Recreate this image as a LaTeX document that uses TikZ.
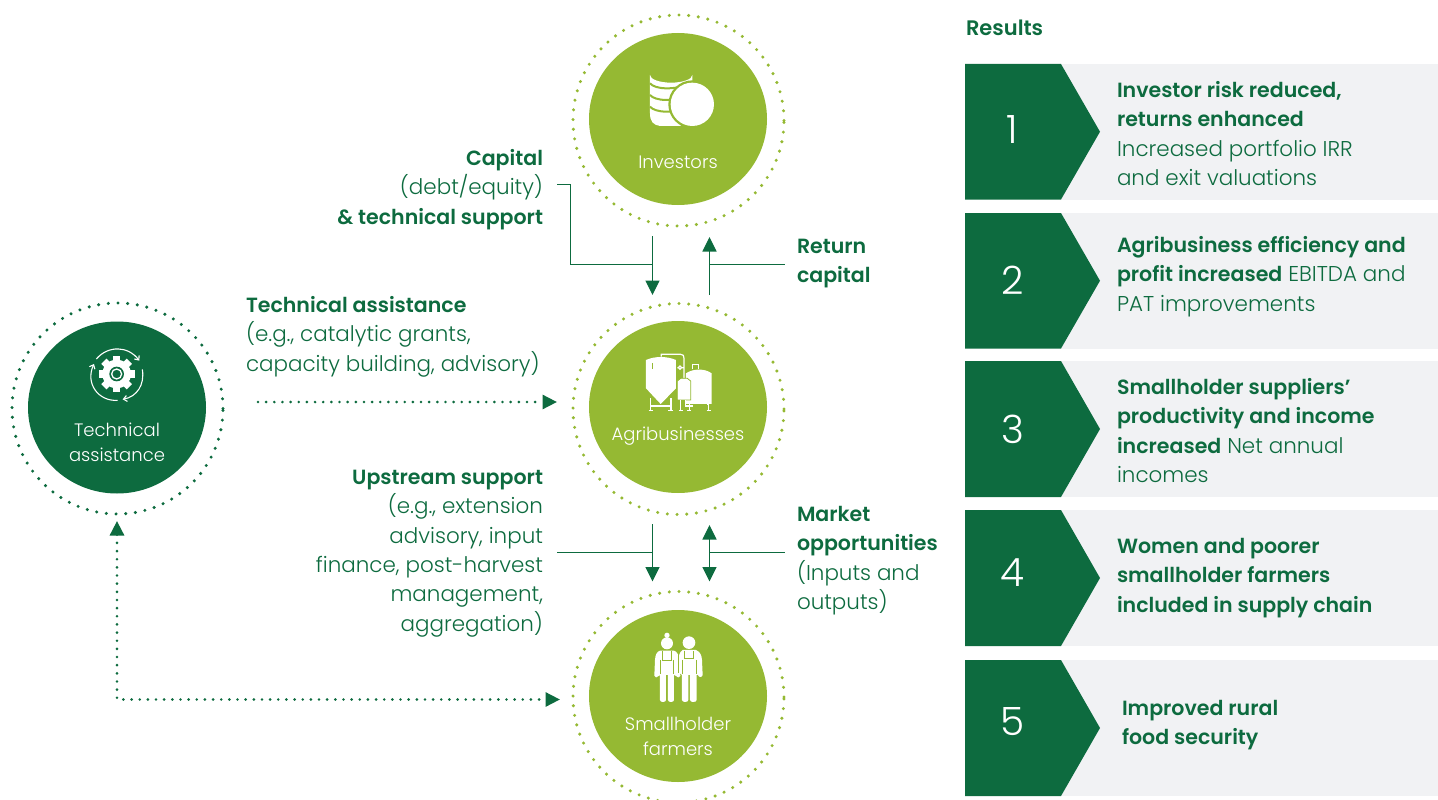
\documentclass[tikz,border=0pt]{standalone}
\usepackage{fontspec}
\setmainfont{Poppins Light}[BoldFont={Poppins SemiBold}]
\usetikzlibrary{arrows.meta,shapes.geometric}
\definecolor{dg}{HTML}{0D6B3F}
\definecolor{lg}{HTML}{95B933}
\definecolor{pg}{HTML}{F1F2F4}
\newcommand{\txt}{\fontsize{21.45}{29.3}\selectfont}
\newcommand{\bd}[1]{{\fontsize{20.55}{29.3}\selectfont\bfseries #1}}
\tikzset{
  disc/.style={ellipse,minimum width=178pt,minimum height=172pt,inner sep=0,outer sep=0},
  ring/.style={ellipse,minimum width=211pt,minimum height=211pt,inner sep=0,outer sep=0,line width=3.4pt,line cap=round,dash pattern=on 0pt off 9.72pt},
  lab/.style={inner sep=0,outer sep=0,text=dg,font=\txt},
  labr/.style={lab,anchor=north east,align=right},
  labl/.style={lab,anchor=north west,align=left},
  ctext/.style={inner sep=0,text=white,align=center,font=\fontsize{18}{25}\selectfont},
  numb/.style={inner sep=0,text=white,font=\fontsize{39}{40}\selectfont},
  conn/.style={draw=dg,line width=1.2pt},
  tip/.style={-{Triangle[length=14.5pt,width=14pt]}},
  dots/.style={draw=dg,line width=2.9pt,line cap=round,dash pattern=on 0pt off 8.15pt},
  chev/.style={fill=dg,draw=none},
  panel/.style={fill=pg,draw=none},
  ico/.style={fill=white,draw=none},
  icol/.style={draw=white,line width=1.2pt}
}
\begin{document}
\begin{tikzpicture}[x=1pt,y=-1pt]
\useasboundingbox (0,0) rectangle (1438,800);
% rings and discs
\node[disc,fill=lg] (inv) at (678,119) {};
\node[ring,draw=lg] (invr) at (678.5,120.5) {};
\node[disc,fill=lg] (agr) at (678,407) {};
\node[ring,draw=lg] (agrr) at (678.5,409) {};
\node[disc,fill=lg] (far) at (678,696) {};
\node[ring,draw=lg] (farr) at (678.5,697) {};
\node[disc,fill=dg] (tec) at (117,407.5) {};
\node[ring,draw=dg] (tecr) at (117.5,408.5) {};
\node[ctext] (tinv) at (678,162) {Investors};
\node[ctext] (tagr) at (678,436) {Agribusinesses};
\node[ctext] (tfar) at (678,736) {Smallholder\\farmers};
\node[ctext] (ttec) at (117,442) {Technical\\assistance};
% coins icon
\begin{scope}[shift={(560,0)},x=0.3333pt,y=-0.3333pt]
  \path[ico] (270,225) arc[start angle=180,end angle=0,x radius=63.5,y radius=23] -- (397,350) -- (360,378) -- (300,378) .. controls (280,375) and (270,365) .. (270,340) -- cycle;
  \draw[lg,line width=2pt] (270,250) .. controls (285,268) and (340,272) .. (397,250);
  \draw[lg,line width=2pt] (270,285) .. controls (285,303) and (340,307) .. (397,285);
  \draw[lg,line width=2pt] (270,320) .. controls (285,338) and (340,342) .. (397,320);
  \fill[lg] (397,313) circle[radius=72];
  \fill[white] (397,313) circle[radius=65];
\end{scope}
% tanks icon
\begin{scope}[shift={(560,300)},x=0.3333pt,y=-0.3333pt]
  \path[ico] (258,180) .. controls (285,168) and (320,168) .. (348,180) -- (348,265) -- (302,312) -- (258,265) -- cycle;
  \draw[lg,line width=1pt] (279,190) -- (279,208);
  \draw[icol] (272,295) -- (272,332) (333,295) -- (333,332) (272,318) -- (333,318);
  \draw[icol] (266,332) -- (280,332) (325,332) -- (340,332);
  \draw[icol] (304,170) -- (304,163) -- (362,163) .. controls (370,163) and (372,167) .. (372,175) -- (372,235);
  \draw[icol] (360,203) circle[radius=5] (352,203) -- (355,203) (365,203) -- (372,203);
  \path[ico] (378,220) .. controls (400,205) and (435,205) .. (455,220) -- (455,312) -- (378,312) -- cycle;
  \draw[icol] (397,208) -- (397,194) -- (415,194) -- (415,208);
  \path[ico,draw=lg,line width=0.8pt] (352,243) -- (362,235) -- (382,235) -- (392,243) -- (392,300) -- (352,300) -- cycle;
  \draw[icol] (362,300) -- (362,332) (388,312) -- (388,332) (440,312) -- (446,312) (446,312) -- (446,332) (358,332) -- (368,332) (382,332) -- (394,332) (440,332) -- (453,332);
  \draw[icol] (376,300) -- (376,318) -- (398,318);
\end{scope}
% farmers icon
\begin{scope}[shift={(540,560)},x=0.3333pt,y=-0.3333pt]
  \fill[white] (381,226) circle[radius=8];
  \fill[white] (381,250) circle[radius=18];
  \fill[white] (447,248) circle[radius=19];
  % woman
  \path[ico] (360,272) -- (402,272) .. controls (412,275) and (416,285) .. (418,300) -- (421,348) .. controls (420,354) and (410,354) .. (408,348) -- (402,345) -- (402,420) .. controls (402,428) and (384,428) .. (384,420) -- (384,345) -- (378,345) -- (378,420) .. controls (378,428) and (360,428) .. (360,420) -- (360,345) -- (356,348) .. controls (352,355) and (343,353) .. (343,347) -- (345,300) .. controls (346,285) and (350,275) .. (360,272) -- cycle;
  % man
  \path[ico] (428,270) -- (468,270) .. controls (480,275) and (485,285) .. (486,300) -- (488,345) .. controls (486,353) and (476,353) .. (474,345) -- (470,345) -- (470,420) .. controls (470,428) and (450,428) .. (450,420) -- (450,345) -- (445,345) -- (445,420) .. controls (445,428) and (426,428) .. (426,420) -- (426,345) -- (420,340) -- (415,300) .. controls (416,285) and (420,275) .. (428,270) -- cycle;
  \draw[lg,line width=0.7pt] (368,272) -- (368,300) -- (394,300) -- (394,272);
  \draw[lg,line width=0.7pt] (434,272) -- (434,295) -- (460,295) -- (460,272);
  \draw[lg,line width=0.9pt] (361,300) -- (361,343) (401,300) -- (401,343) (426,300) -- (426,343) (470,300) -- (470,343);
  \draw[lg,line width=0.9pt] (414,278) -- (414,340);
\end{scope}
% gear icon
\begin{scope}[shift={(0,290)},x=0.3333pt,y=-0.3333pt]
  \foreach \a in {0,45,...,315} {
    \fill[white,rotate around={\a:(350,252)}] (339,198) rectangle (361,225);
  }
  \fill[white] (350,252) circle[radius=43];
  \fill[dg] (350,252) circle[radius=22];
  \draw[white,line width=1.3pt] (350,252) circle[radius=15];
  \draw[white,line width=1.1pt,-{Straight Barb[length=3.5pt,width=6pt]}] (289,207) .. controls (325,165) and (385,168) .. (418,212);
  \draw[white,line width=1.1pt,-{Straight Barb[length=3.5pt,width=6pt]}] (427,238) .. controls (435,285) and (410,320) .. (368,328);
  \draw[white,line width=1.1pt,-{Straight Barb[length=3.5pt,width=6pt]}] (353,331) .. controls (295,335) and (255,280) .. (282,222);
\end{scope}
% connectors
\coordinate (c0) at (557,184.5);
\coordinate (c1) at (570.5,184.5);
\coordinate (c2) at (570.5,264.5);
\coordinate (c3) at (652.5,236);
\coordinate (c4) at (652.5,264.5);
\coordinate (c5) at (652.5,295);
\coordinate (r0) at (709.5,295);
\coordinate (r1) at (709.5,237);
\coordinate (r2) at (709.5,264.5);
\coordinate (r3) at (785,264.5);
\coordinate (u0) at (557,552.5);
\coordinate (u1) at (652.5,524);
\coordinate (u2) at (652.5,552.5);
\coordinate (u3) at (652.5,581.5);
\coordinate (m0) at (709.5,525);
\coordinate (m1) at (709.5,581.5);
\coordinate (m2) at (709.5,552.5);
\coordinate (m3) at (785,552.5);
\coordinate (t0) at (258,402);
\coordinate (t1) at (557,402);
\coordinate (l0) at (117,521);
\coordinate (l1) at (117,699.5);
\coordinate (l2) at (560,699.5);
\draw[conn] (c0) -- (c1) -- (c2) -- (c4);
\draw[conn,tip] (c3) -- (c5);
\draw[conn,tip] (r0) -- (r1);
\draw[conn] (r2) -- (r3);
\draw[conn] (u0) -- (u2);
\draw[conn,tip] (u1) -- (u3);
\draw[conn,{Triangle[length=14.5pt,width=14pt]}-{Triangle[length=14.5pt,width=14pt]}] (m0) -- (m1);
\draw[conn] (m2) -- (m3);
\draw[dots,tip] (t0) -- (t1);
\draw[dots,{Triangle[length=14.5pt,width=14pt]}-{Triangle[length=14.5pt,width=14pt]}] (l0) -- (l1) -- (l2);
% left labels
\node[labr] (lcap) at (543,145) {\strut\bd{Capital}\\(debt/equity)\\\bd{\&\ technical support}};
\node[labl] (lret) at (797,233) {\strut\bd{Return}\\\bd{capital}};
\node[labl] (ltec) at (246,292) {\strut\bd{Technical assistance}\\(e.g., catalytic grants,\\capacity building, advisory)};
\node[labr] (lups) at (543,464) {\strut\bd{Upstream support}\\(e.g., extension\\advisory, input\\finance, post-harvest\\management,\\aggregation)};
\node[labl] (lmar) at (797,501) {\strut\bd{Market}\\\bd{opportunities}\\(Inputs and\\outputs)};
% results
\node[lab,anchor=base west] (res) at (966,35.5) {\fontsize{21}{24}\selectfont\bfseries Results};
\foreach \n/\top/\bot/\num/\ny in {a/64/199.5/1/130,b/213/348.5/2/280,c/361/497/3/429,d/510/646/4/573,e/660/796/5/722} {
  \fill[pg] (1061,\top) rectangle (1438,\bot);
  \path[chev] (965,\top) -- (1061,\top) -- (1100,{(\top+\bot)/2}) -- (1061,\bot) -- (965,\bot) -- cycle;
  \node[numb] (num\n) at (1012.5,\ny) {\num};
}
\node[labl] (r1t) at (1117,77) {\strut\bd{Investor risk reduced,}\\\bd{returns enhanced}\\Increased portfolio IRR\\and exit valuations};
\node[labl] (r2t) at (1117,232) {\strut\bd{Agribusiness efficiency and}\\\bd{profit increased} EBITDA and\\PAT improvements};
\node[labl] (r3t) at (1117,374) {\strut\bd{Smallholder suppliers'}\\\bd{productivity and income}\\\bd{increased} Net annual\\incomes};
\node[labl] (r4t) at (1117,533) {\strut\bd{Women and poorer}\\\bd{smallholder farmers}\\\bd{included in supply chain}};
\node[labl] (r5t) at (1122,695) {\strut\bd{Improved rural}\\\bd{food security}};
\end{tikzpicture}
\end{document}
